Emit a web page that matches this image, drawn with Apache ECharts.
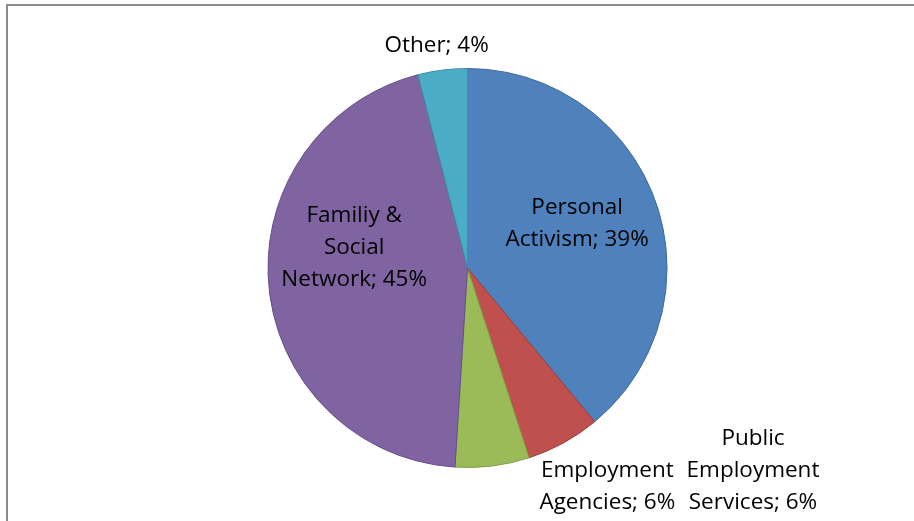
<!DOCTYPE html>
<html>
<head>
<meta charset="utf-8">
<script src="https://cdn.jsdelivr.net/npm/echarts@6/dist/echarts.min.js"></script>
<style>
  html, body { margin: 0; padding: 0; background: #ffffff; }
  #chart { width: 914px; height: 521px; }
</style>
</head>
<body>
<div id="chart"></div>
<script>
// Job-search channels (share of respondents, %)
const categories = [
  'Personal\nActivism',
  'Public\nEmployment\nServices',
  'Employment\nAgencies',
  'Familiy &\nSocial\nNetwork',
  'Other'
];
const values = [39, 6, 6, 45, 4];
const colors = ['#4F81BD', '#C0504D', '#9BBB59', '#8064A2', '#4BACC6'];
const edgeColors = ['#3F6A9E', '#9E3E3B', '#7F9C45', '#67508A', '#3A8FA6'];
// label nudges from the default inside anchor
const labelOffsets = [[13, -10], [236, 113], [127, 117], [-11, -30], [-18, -120]];

const chart = echarts.init(document.getElementById('chart'), null, { renderer: 'canvas' });

const data = categories.map((name, i) => ({
  name: name,
  value: values[i],
  itemStyle: { color: colors[i], borderColor: edgeColors[i], borderWidth: 1 },
  label: { offset: labelOffsets[i] }
}));

chart.setOption({
  animation: false,
  backgroundColor: '#ffffff',
  graphic: [{
    type: 'polyline',
    shape: { points: [[7, 530], [7, 5], [930, 5]] },
    style: { stroke: '#8C8C8C', lineWidth: 2, fill: null },
    silent: true
  }],
  series: [{
    type: 'pie',
    center: [467.5, 268],
    radius: [0, 199.5],
    startAngle: 90,
    clockwise: true,
    percentPrecision: 0,
    data: data,
    label: {
      show: true,
      position: 'inside',
      color: '#000000',
      fontFamily: '"Open Sans", Lato, sans-serif',
      fontSize: 22.5,
      lineHeight: 32,
      align: 'center',
      formatter: p => p.name.replace(/\n([^\n]*)$/, (m, last) => '\n' + last + '; ' + p.percent + '%').replace(/^([^\n]*)$/, s => s + '; ' + p.percent + '%')
    },
    labelLine: { show: false },
    emphasis: { disabled: true }
  }]
});
</script>
</body>
</html>
